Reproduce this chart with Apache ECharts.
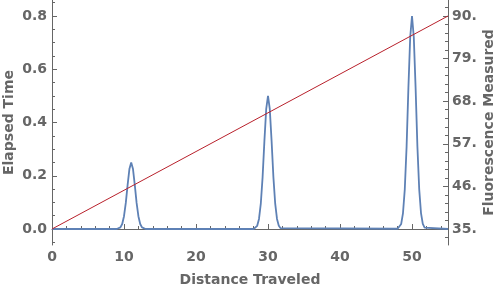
<!DOCTYPE html>
<html>
<head>
<meta charset="utf-8">
<script src="https://cdn.jsdelivr.net/npm/echarts@6/dist/echarts.min.js"></script>
<style>html,body{margin:0;padding:0;background:#fff}#c{width:500px;height:290px}</style>
</head>
<body>
<div id="c"></div>
<script>
// Blue trace: distance traveled vs elapsed time (left axis)
var distance = [0, 9, 9.25, 9.5, 9.75, 10, 10.25, 10.5, 10.75, 11, 11.25, 11.5, 11.75, 12, 12.25, 12.5, 12.75, 13,
  28, 28.25, 28.5, 28.75, 29, 29.25, 29.5, 29.75, 30, 30.25, 30.5, 30.75, 31, 31.25, 31.5, 31.75, 32,
  48, 48.25, 48.5, 48.75, 49, 49.25, 49.5, 49.75, 50, 50.25, 50.5, 50.75, 51, 51.25, 51.5, 51.75, 52, 55];
var elapsed = [0, 0, 0.0015, 0.006, 0.019, 0.048, 0.098, 0.165, 0.225, 0.25, 0.225, 0.165, 0.098, 0.048, 0.019, 0.006, 0.0015, 0,
  0, 0.003, 0.012, 0.038, 0.095, 0.195, 0.33, 0.45, 0.5, 0.45, 0.33, 0.195, 0.095, 0.038, 0.012, 0.003, 0,
  0.001, 0.005, 0.019, 0.06, 0.15, 0.31, 0.53, 0.72, 0.8, 0.72, 0.53, 0.31, 0.15, 0.06, 0.019, 0.005, 0.001, 0];
// Red line: fluorescence (right axis)
var fluorDistance = [0, 55];
var fluorescence = [35, 90];
// Tick labels
var xTicks = [0, 10, 20, 30, 40, 50];
var leftTicks = [0, 0.2, 0.4, 0.6, 0.8];
var rightTicks = [35, 46, 57, 68, 79, 90];

var xMinor = [], leftMinor = [], rightMinor = [];
for (var i = 0; i <= 27; i++) { var v = i * 2; if (v % 10 !== 0) xMinor.push(v); }
for (var j = -1; j <= 17; j++) { if ((j + 100) % 4 !== 0) leftMinor.push(+(j * 0.05).toFixed(2)); }
for (var k = -1; k <= 26; k++) { if ((k + 100) % 5 !== 0) rightMinor.push(+(35 + k * 2.2).toFixed(2)); }

var grey = '#666666';
var lblFont = { color: grey, fontFamily: 'DejaVu Sans', fontWeight: 'bold', fontSize: 14 };
var nameFont = { color: grey, fontFamily: 'DejaVu Sans', fontWeight: 'bold', fontSize: 14 };
var axLine = { show: true, lineStyle: { color: grey, width: 1 } };

function minorAxis(base, vals) {
  return Object.assign({
    type: 'value', axisLine: { show: false }, splitLine: { show: false },
    axisLabel: { show: false },
    axisTick: { show: true, inside: true, length: 3, customValues: vals, lineStyle: { color: grey } }
  }, base);
}

var chart = echarts.init(document.getElementById('c'), null, { renderer: 'canvas' });
chart.setOption({
  animation: false,
  grid: { left: 52, right: 52, top: 0, bottom: 45, containLabel: false, outerBoundsMode: 'none' },
  xAxis: [
    { type: 'value', min: 0, max: 55, position: 'bottom',
      name: 'Distance Traveled', nameLocation: 'middle', nameGap: 28, nameMoveOverlap: false, nameTextStyle: nameFont,
      axisLine: axLine, splitLine: { show: false },
      axisTick: { show: true, inside: true, length: 5, customValues: xTicks, lineStyle: { color: grey } },
      axisLabel: Object.assign({ customValues: xTicks, margin: 5 }, lblFont) },
    minorAxis({ min: 0, max: 55, position: 'bottom' }, xMinor)
  ],
  yAxis: [
    { type: 'value', min: -0.06, max: 0.86, position: 'left',
      name: 'Elapsed Time', nameLocation: 'middle', nameGap: 36, nameMoveOverlap: false, nameTextStyle: nameFont,
      axisLine: axLine, splitLine: { show: false },
      axisTick: { show: true, inside: true, length: 5, customValues: leftTicks, lineStyle: { color: grey } },
      axisLabel: Object.assign({ customValues: leftTicks, margin: 5, formatter: function (v) { return v.toFixed(1); } }, lblFont) },
    minorAxis({ min: -0.06, max: 0.86, position: 'left' }, leftMinor),
    { type: 'value', min: 30.87, max: 94.13, position: 'right',
      name: 'Fluorescence Measured', nameLocation: 'middle', nameGap: 34, nameMoveOverlap: false, nameTextStyle: nameFont,
      axisLine: axLine, splitLine: { show: false },
      axisTick: { show: true, inside: true, length: 5, customValues: rightTicks, lineStyle: { color: grey } },
      axisLabel: Object.assign({ customValues: rightTicks, margin: 4, formatter: function (v) { return v + '.'; } }, lblFont) },
    minorAxis({ min: 30.87, max: 94.13, position: 'right' }, rightMinor)
  ],
  series: [
    { type: 'line', xAxisIndex: 0, yAxisIndex: 0, showSymbol: false, smooth: false,
      lineStyle: { color: '#5e81b5', width: 1.8 },
      data: distance.map(function (d, i) { return [d, elapsed[i]]; }) },
    { type: 'line', xAxisIndex: 0, yAxisIndex: 2, showSymbol: false,
      lineStyle: { color: '#b8202b', width: 1 },
      data: fluorDistance.map(function (d, i) { return [d, fluorescence[i]]; }) }
  ]
});
</script>
</body>
</html>
